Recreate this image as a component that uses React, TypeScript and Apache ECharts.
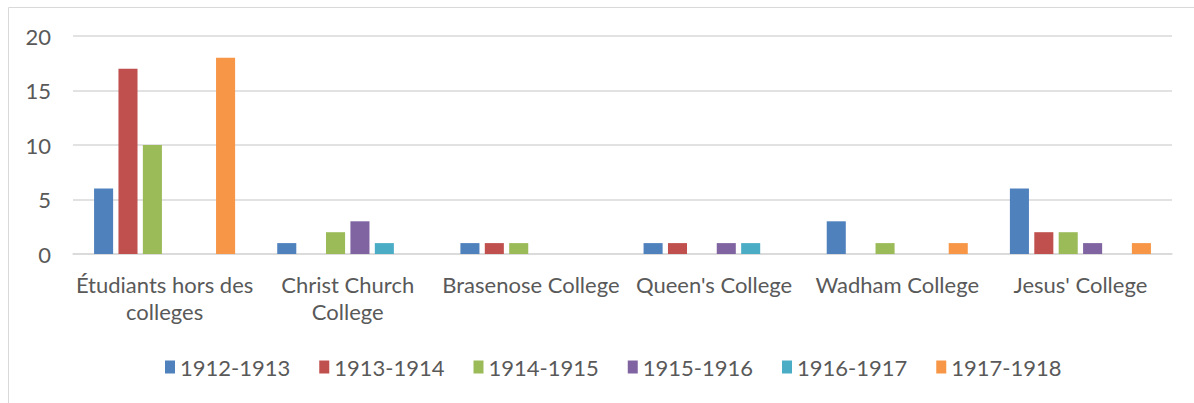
import React, { useEffect, useRef } from "react";
import * as echarts from "echarts";

const categories = [
  "Étudiants hors des colleges",
  "Christ Church College",
  "Brasenose College",
  "Queen's College",
  "Wadham College",
  "Jesus' College",
];
const categoryLabels = [
  "Étudiants hors des\ncolleges",
  "Christ Church\nCollege",
  "Brasenose College",
  "Queen's College",
  "Wadham College",
  "Jesus' College",
];
const seriesNames = ["1912-1913", "1913-1914", "1914-1915", "1915-1916", "1916-1917", "1917-1918"];
const s1912 = [6, 1, 1, 1, 3, 6];
const s1913 = [17, 0, 1, 1, 0, 2];
const s1914 = [10, 2, 1, 0, 1, 2];
const s1915 = [0, 3, 0, 1, 0, 1];
const s1916 = [0, 1, 0, 1, 0, 0];
const s1917 = [18, 0, 0, 0, 1, 1];
const seriesValues = [s1912, s1913, s1914, s1915, s1916, s1917];
const colors = ["#4F81BD", "#C0504D", "#9BBB59", "#8064A2", "#4BACC6", "#F79646"];

export default function App() {
  const ref = useRef<HTMLDivElement>(null);
  useEffect(() => {
    if (!ref.current) return;
    const chart = echarts.init(ref.current, null, { renderer: "svg" });
    const font = "Lato, 'Open Sans', sans-serif";
    chart.setOption({
      animation: false,
      color: colors,
      textStyle: { fontFamily: font },
      graphic: [
        {
          type: "rect",
          shape: { x: 8.5, y: 7.5, width: 1300, height: 600 },
          style: { fill: "none", stroke: "#D9D9D9", lineWidth: 1 },
          silent: true,
        },
      ],
      grid: { left: 73, right: 22, top: 36, bottom: 149 },
      xAxis: {
        type: "category",
        data: categories,
        axisLine: { lineStyle: { color: "#D9D9D9", width: 1.5 } },
        axisTick: { show: false },
        axisLabel: {
          interval: 0,
          color: "#595959",
          fontSize: 22,
          fontFamily: font,
          margin: 17,
          lineHeight: 27,
          formatter: (v: string) => categoryLabels[categories.indexOf(v)] ?? v,
        },
      },
      yAxis: {
        type: "value",
        min: 0,
        max: 20,
        interval: 5,
        axisLine: { show: false },
        axisTick: { show: false },
        axisLabel: { color: "#595959", fontSize: 22, fontFamily: font, margin: 22 },
        splitLine: { lineStyle: { color: "#D9D9D9", width: 1.5 } },
      },
      legend: {
        left: 160,
        top: 351,
        itemWidth: 10,
        itemHeight: 13,
        itemGap: 29,
        icon: "rect",
        textStyle: { color: "#595959", fontSize: 22, fontFamily: font },
        data: seriesNames,
      },
      series: seriesNames.map((name, i) => ({
        name,
        type: "bar",
        data: seriesValues[i],
        barGap: "28%",
        barCategoryGap: "23%",
        itemStyle: { color: colors[i] },
      })),
    });
    return () => chart.dispose();
  }, []);
  return (
    <div
      ref={ref}
      style={{ position: "fixed", left: 0, top: 0, width: 1194, height: 403, background: "#fff" }}
    />
  );
}
